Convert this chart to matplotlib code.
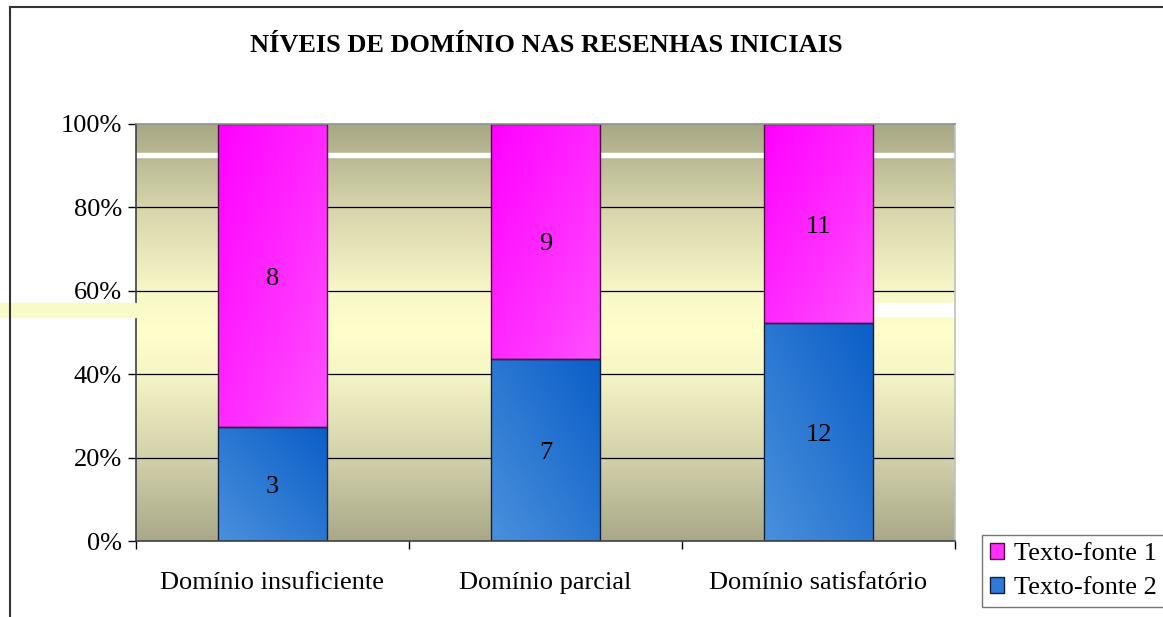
import numpy as np
import matplotlib
matplotlib.use("Agg")
import matplotlib.pyplot as plt
from matplotlib.colors import LinearSegmentedColormap, to_rgb
from matplotlib.patches import Patch, Rectangle
from matplotlib.lines import Line2D
from matplotlib.transforms import offset_copy

categories = ["Domínio insuficiente", "Domínio parcial", "Domínio satisfatório"]
fonte1 = [8, 9, 11]
fonte2 = [3, 7, 12]
series_names = ["Texto-fonte 1", "Texto-fonte 2"]
title = "NÍVEIS DE DOMÍNIO NAS RESENHAS INICIAIS"

plt.rcParams["font.family"] = ["Liberation Serif", "DejaVu Serif"]
FS = 19

total = np.array(fonte1) + np.array(fonte2)
p2 = np.array(fonte2) / total * 100
p1 = np.array(fonte1) / total * 100

fig = plt.figure(figsize=(11.63, 6.17), dpi=100)
ax = fig.add_axes([136 / 1163, 76 / 617, 819 / 1163, 417 / 617])

# background gradient of the plot area
bg = LinearSegmentedColormap.from_list(
    "bg",
    [(0.0, "#a9a98a"), (0.2, "#d2d1aa"), (0.4, "#f6f5c6"), (0.5, "#ffffcc"),
     (0.6, "#f8f7c8"), (0.8, "#d6d5ab"), (1.0, "#a8a886")])
grad = np.linspace(0, 1, 256).reshape(-1, 1)
ax.imshow(grad, cmap=bg, extent=[0, 1, 0, 1], transform=ax.transAxes,
          origin="lower", aspect="auto", zorder=0)

# white rendering streaks seen in the original
ax.axhspan(92.1, 93.0, color="white", zorder=1)
ax.axhspan(54.0, 57.1, xmin=0.902, xmax=1.0, color="white", zorder=1)
fig.patches.append(Rectangle((0, 0.486), 136 / 1163, 0.023, transform=fig.transFigure,
                             color="#fafac8", zorder=0))

for y in [20, 40, 60, 80]:
    ax.axhline(y, color="black", lw=0.9, zorder=2)


def diag_gradient(c0, c1, flip):
    n = 60
    xx, yy = np.meshgrid(np.linspace(0, 1, n), np.linspace(0, 1, n))
    t = (xx + (1 - yy)) / 2 if flip else (xx + yy) / 2
    a = np.array(to_rgb(c0))
    b = np.array(to_rgb(c1))
    return a + (b - a) * t[..., None]


x = np.arange(len(categories))
w = 0.4
bars2 = ax.bar(x, p2, w, facecolor="none", edgecolor="#10203a", lw=1.0, zorder=4)
bars1 = ax.bar(x, p1, w, bottom=p2, facecolor="none", edgecolor="#4a1040", lw=1.0, zorder=4)

img_blue = diag_gradient("#4a90dc", "#0a5ec8", False)
img_mag = diag_gradient("#ff00ff", "#ff50ff", True)
for b in bars2:
    im = ax.imshow(img_blue, extent=[b.get_x(), b.get_x() + b.get_width(), b.get_y(), b.get_y() + b.get_height()],
                   origin="lower", aspect="auto", zorder=3)
    im.set_clip_path(b)
for b in bars1:
    im = ax.imshow(img_mag, extent=[b.get_x(), b.get_x() + b.get_width(), b.get_y(), b.get_y() + b.get_height()],
                   origin="lower", aspect="auto", zorder=3)
    im.set_clip_path(b)

lab_tr = offset_copy(ax.transData, fig=fig, y=-3, units="dots")
for i in range(len(categories)):
    ax.text(x[i], p2[i] / 2, str(fonte2[i]), ha="center", va="center", fontsize=FS,
            zorder=5, transform=lab_tr)
    ax.text(x[i], p2[i] + p1[i] / 2, str(fonte1[i]), ha="center", va="center", fontsize=FS,
            zorder=5, transform=lab_tr)

ax.set_xlim(-0.5, len(categories) - 0.5)
ax.set_ylim(0, 100)
ax.set_yticks([0, 20, 40, 60, 80, 100])
ax.set_yticklabels(["0%", "20%", "40%", "60%", "80%", "100%"], fontsize=FS)
ax.set_xticks(np.arange(len(categories) + 1) - 0.5)
ax.set_xticklabels([])
ax.set_xticks(x, minor=True)
ax.set_xticklabels(categories, minor=True, fontsize=FS)
ax.tick_params(axis="x", which="minor", length=0, pad=22)
ax.tick_params(axis="both", which="major", length=6, width=1, direction="out", pad=4)

ax.spines["left"].set_color("#404040")
ax.spines["bottom"].set_color("#404040")
ax.spines["top"].set_color("#909090")
ax.spines["right"].set_color("#c0c0c0")
for s in ax.spines.values():
    s.set_linewidth(1.2)
    s.set_zorder(6)

fig.text(0.470, 0.927, title, ha="center", va="center", fontsize=FS, fontweight="bold")

handles = [Patch(facecolor="#ff2eff", edgecolor="#4a1040", lw=1.0),
           Patch(facecolor="#2e7ad6", edgecolor="#10203a", lw=1.0)]
leg = fig.legend(handles, series_names, loc="upper left",
                 bbox_to_anchor=(982 / 1163, (617 - 535) / 617), borderaxespad=0,
                 fontsize=FS, frameon=True, fancybox=False, handlelength=0.55,
                 handleheight=0.55, handletextpad=0.35, borderpad=0.3, labelspacing=0.45)
leg.get_frame().set_edgecolor("#555555")
leg.get_frame().set_linewidth(1.0)

# outer frame of the chart object (left and top edges visible)
fig.add_artist(Line2D([10 / 1163, 10 / 1163], [0, 1 - 7 / 617], transform=fig.transFigure,
                      color="#333333", lw=1.5))
fig.add_artist(Line2D([10 / 1163, 1], [1 - 7 / 617, 1 - 7 / 617], transform=fig.transFigure,
                      color="#333333", lw=1.5))

fig.savefig("out.png", dpi=100)
